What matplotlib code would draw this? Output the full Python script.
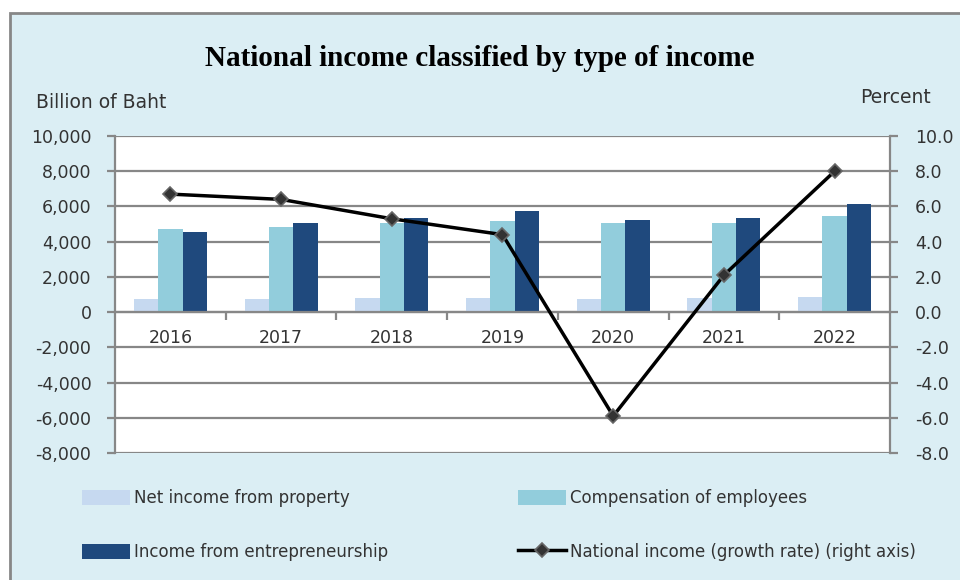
import matplotlib
matplotlib.use('Agg')
import matplotlib.pyplot as plt
import numpy as np
from matplotlib.patches import Rectangle
from matplotlib.ticker import FuncFormatter

plt.rcParams['font.family'] = ['DejaVu Sans']

years = ['2016', '2017', '2018', '2019', '2020', '2021', '2022']
net_property = [720, 720, 795, 795, 740, 795, 870]
compensation = [4716, 4850, 5057, 5190, 5057, 5057, 5450]
entrepreneurship = [4528, 5057, 5320, 5740, 5210, 5320, 6136]
growth = [6.7, 6.4, 5.3, 4.4, -5.9, 2.1, 8.0]

grey = '#878787'
bg = '#dbeef4'
txt = '#333333'

fig = plt.figure(figsize=(9.6, 5.8), dpi=100)
fig.patch.set_facecolor('white')
# outer panel
fig.patches.append(Rectangle((10/960, -0.05), 1.0, 1 - 13/580 + 0.05,
                             transform=fig.transFigure, facecolor=bg,
                             edgecolor=grey, linewidth=2, zorder=-1))

ax = fig.add_axes([115/960, 1 - 453/580, 775/960, 317/580])
ax.set_facecolor('white')
x = np.arange(len(years))
w = 0.22
b1 = ax.bar(x - w, net_property, w, color='#c6d9f0', label='Net income from property', zorder=3)
b2 = ax.bar(x, compensation, w, color='#92cddc', label='Compensation of employees', zorder=3)
b3 = ax.bar(x + w, entrepreneurship, w, color='#1f497d', label='Income from entrepreneurship', zorder=3)

ax.set_ylim(-8000, 10000)
ax.set_yticks(np.arange(-8000, 10001, 2000))
ax.yaxis.set_major_formatter(FuncFormatter(lambda v, p: f'{int(v):,}'))
ax.set_xlim(-0.5, len(years) - 0.5)
ax.grid(axis='y', color=grey, linewidth=1.6, zorder=0)

for s in ['top', 'right']:
    ax.spines[s].set_visible(False)
ax.spines['left'].set_color(grey)
ax.spines['left'].set_linewidth(1.6)
ax.spines['bottom'].set_position(('data', 0))
ax.spines['bottom'].set_color(grey)
ax.spines['bottom'].set_linewidth(1.6)
ax.spines['bottom'].set_zorder(4)

ax.set_xticks(x)
ax.set_xticklabels(years)
ax.set_xticks(np.arange(0.5, len(years) - 1, 1.0), minor=True)
ax.tick_params(axis='x', which='major', length=0, pad=12, labelsize=12.5, colors=txt)
ax.tick_params(axis='x', which='minor', length=6, width=1.6, color=grey)
ax.tick_params(axis='y', length=6, width=1.6, color=grey, pad=11, labelsize=12.5, labelcolor=txt)

ax2 = ax.twinx()
ln, = ax2.plot(x, growth, color='black', linewidth=2.5, marker='D', markersize=7,
               markerfacecolor='#333333', markeredgecolor='#666666', markeredgewidth=1.2,
               label='National income (growth rate) (right axis)', zorder=5)
ax2.set_ylim(-8, 10)
ax2.set_yticks(np.arange(-8, 10.1, 2))
ax2.yaxis.set_major_formatter(FuncFormatter(lambda v, p: f'{v:.1f}'))
for s in ['top', 'left', 'bottom']:
    ax2.spines[s].set_visible(False)
ax2.spines['right'].set_color(grey)
ax2.spines['right'].set_linewidth(1.6)
ax2.tick_params(axis='y', length=6, width=1.6, color=grey, pad=12, labelsize=12.5, labelcolor=txt)

fig.text(0.5, 1 - 58/580, 'National income classified by type of income',
         ha='center', va='center', fontsize=21, fontweight='bold',
         family='Liberation Serif', color='black')
fig.text(36/960, 1 - 103/580, 'Billion of Baht', ha='left', va='center', fontsize=13.5, color=txt)
fig.text(931/960, 1 - 97/580, 'Percent', ha='right', va='center', fontsize=13.5, color=txt)

leg_kw = dict(loc='center left', frameon=False, fontsize=12, handlelength=2.9,
              handleheight=1.0, handletextpad=0.2, labelspacing=2.15,
              labelcolor=txt, borderpad=0, borderaxespad=0)
leg1 = fig.legend([b1, b3], [b1.get_label(), b3.get_label()],
                  bbox_to_anchor=(82/960, 1 - 525/580), **leg_kw)
leg2 = fig.legend([b2, ln], [b2.get_label(), ln.get_label()],
                  bbox_to_anchor=(518/960, 1 - 525/580), **leg_kw)

fig.savefig('out.png', dpi=100)
